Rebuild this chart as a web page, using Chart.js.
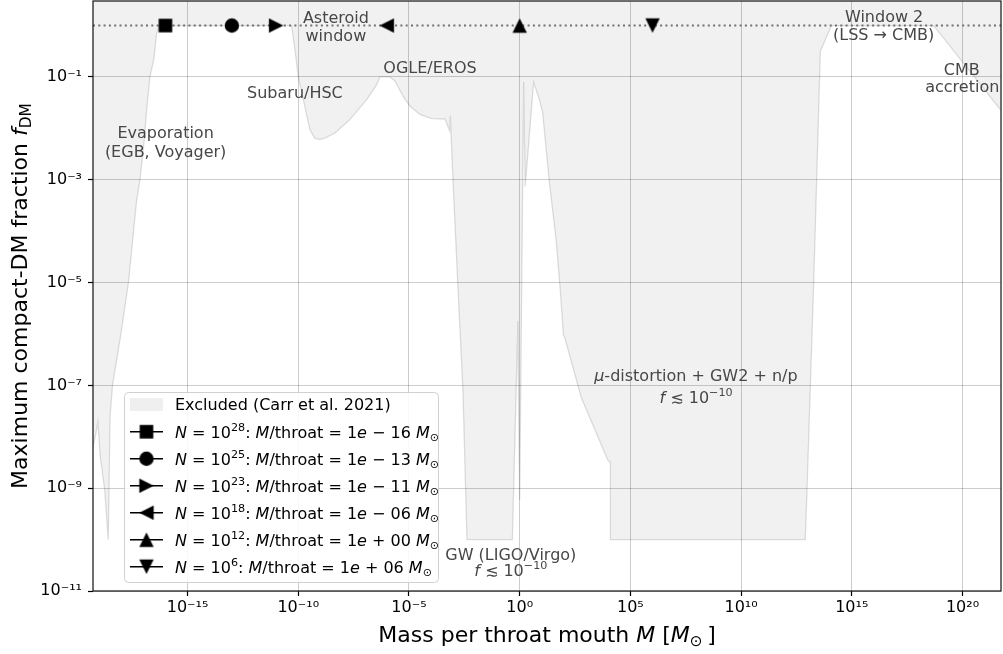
<!DOCTYPE html>
<html><head><meta charset="utf-8">
<script src="https://cdn.jsdelivr.net/npm/chart.js@4.4.1/dist/chart.umd.min.js"></script>
<style>html,body{margin:0;padding:0;background:#fff;overflow:hidden}canvas{display:block}</style>
</head><body>
<canvas id="c" width="1003" height="654"></canvas>
<script>
// ---------- data ----------
const xMinExp = -19.27, xMaxExp = 21.74;
const yMin = 1e-11, yMax = 3;
const xTickExps = [-15, -10, -5, 0, 5, 10, 15, 20];
const yTickExps = [-11, -9, -7, -5, -3, -1];

// excluded-region boundary (log10 M, log10 f_max)
const boundLogM = [-19.27,-19.15,-19.05,-18.94,-18.74,-18.58,-18.50,-18.39,-18.01,-17.67,-17.30,-17.15,-16.95,-16.85,-16.70,-16.52,-16.40,-16.28,
  -10.30,-10.15,-10.00,-9.77,-9.47,-9.25,-9.02,-8.80,-8.34,-7.67,-6.91,-6.46,-6.31,-5.86,-5.63,-5.26,-4.95,-4.50,-4.05,-3.90,-3.37,-3.16,-3.13,
  -3.01,-2.79,-2.56,-2.38,-0.33,-0.08,0.00,0.18,0.25,0.63,0.90,1.04,1.34,1.65,1.83,1.98,2.03,2.78,4.00,4.10,4.10,12.90,12.98,13.28,13.58,14.08,18.70,21.74];
const boundLogF = [-8.20,-7.95,-7.71,-8.39,-9.03,-10.00,-7.60,-7.00,-6.00,-5.00,-3.40,-3.00,-2.20,-1.65,-1.00,-0.65,-0.16,0.00,
  0.00,-0.47,-0.99,-1.44,-2.03,-2.19,-2.22,-2.19,-2.09,-1.83,-1.44,-1.15,-1.00,-1.00,-1.08,-1.38,-1.57,-1.73,-1.80,-1.81,-1.82,-2.05,-1.75,
  -3.02,-5.06,-7.11,-10.00,-10.00,-5.75,-9.23,-1.10,-3.13,-1.10,-1.45,-1.70,-3.04,-4.18,-5.12,-6.03,-6.06,-7.23,-8.47,-8.49,-10.00,-10.00,-9.00,-5.00,-0.50,0.00,0.00,-1.65];

const windowLevel = 1;
const throatN = [28, 25, 23, 18, 12, 6];
const throatMass = [1e-16, 1e-13, 1e-11, 1e-6, 1e0, 1e6];
const throatMarker = ['square', 'circle', 'triRight', 'triLeft', 'triUp', 'triDown'];

// annotation lines: text, centre log10 M, baseline log10 f
const annoText = ['Evaporation', '(EGB, Voyager)', 'Subaru/HSC', 'Asteroid', 'window', 'OGLE/EROS', 'Window 2', '(LSS \u2192 CMB)',
  'CMB', 'accretion', 'MU', 'FLIM', 'GW (LIGO/Virgo)', 'FLIM'];
const annoLogM = [-15.99, -15.99, -10.15, -8.30, -8.30, -4.05, 16.46, 16.44, 19.97, 19.99, 7.96, 7.97, -0.40, -0.40];
const annoLogF = [-2.182, -2.552, -1.415, 0.055, -0.295, -0.929, 0.074, -0.281, -0.962, -1.298, -6.918, -7.335, -10.396, -10.707];

// ---------- helpers ----------
const FONT = '"DejaVu Sans", sans-serif';
const SUPMAP = {'-':'\u207B','0':'\u2070','1':'\u00B9','2':'\u00B2','3':'\u00B3','4':'\u2074','5':'\u2075','6':'\u2076','7':'\u2077','8':'\u2078','9':'\u2079'};
const supStr = n => String(n).split('').map(c => SUPMAP[c]).join('');
const tickLabel = v => '10' + supStr(Math.round(Math.log10(v)));

function segFont(s, size) {
  const sz = (s.sup || s.sub) ? size * 0.7 : size;
  return (s.it ? 'italic ' : '') + sz + 'px ' + FONT;
}
function richWidth(ctx, segs, size) {
  let w = 0;
  for (const s of segs) { ctx.font = segFont(s, size); w += ctx.measureText(s.t).width; }
  return w;
}
function drawRich(ctx, segs, x, y, size, align, color) {
  const w = richWidth(ctx, segs, size);
  let cx = align === 'center' ? x - w / 2 : (align === 'right' ? x - w : x);
  ctx.fillStyle = color; ctx.textBaseline = 'alphabetic'; ctx.textAlign = 'left';
  for (const s of segs) {
    ctx.font = segFont(s, size);
    let dy = 0;
    if (s.sup) dy = -size * 0.42;
    if (s.sub) dy = size * 0.22;
    ctx.fillText(s.t, cx, y + dy);
    cx += ctx.measureText(s.t).width;
  }
}
const fLim = [{t:'f', it:1}, {t:' \u2272 10'}, {t:'\u221210', sup:1}];
function annoSegs(t) {
  if (t === 'MU') return [{t:'\u03BC', it:1}, {t:'-distortion + GW2 + n/p'}];
  if (t === 'FLIM') return fLim;
  return [{t}];
}

function makeMarker(kind) {
  const c = document.createElement('canvas');
  c.width = 18; c.height = 18;
  const g = c.getContext('2d');
  const m = 9, h = 7.2;
  g.fillStyle = '#000';
  g.beginPath();
  if (kind === 'square') { g.rect(m - 6.8, m - 6.8, 13.6, 13.6); }
  else if (kind === 'circle') { g.arc(m, m, 7.2, 0, Math.PI * 2); }
  else if (kind === 'triUp') { g.moveTo(m, m - h); g.lineTo(m + h, m + h); g.lineTo(m - h, m + h); }
  else if (kind === 'triDown') { g.moveTo(m, m + h); g.lineTo(m + h, m - h); g.lineTo(m - h, m - h); }
  else if (kind === 'triRight') { g.moveTo(m + h, m); g.lineTo(m - h, m - h); g.lineTo(m - h, m + h); }
  else if (kind === 'triLeft') { g.moveTo(m - h, m); g.lineTo(m + h, m - h); g.lineTo(m + h, m + h); }
  g.closePath(); g.fill();
  return c;
}
const markerCanvas = throatMarker.map(makeMarker);

function massParts(m) {
  const e = Math.round(Math.log10(m));
  return {sign: e < 0 ? ' \u2212 ' : ' + ', exp: String(Math.abs(e)).padStart(2, '0')};
}
function legendSegs(i) {
  const ml = massParts(throatMass[i]);
  return [{t:'N', it:1}, {t:' = 10'}, {t:String(throatN[i]), sup:1}, {t:': '}, {t:'M', it:1}, {t:'/throat = 1'},
    {t:'e', it:1}, {t:ml.sign + ml.exp + ' '}, {t:'M', it:1}, {t:'\u2299', sub:1}];
}

// ---------- decoration plugin ----------
const decor = {
  id: 'decor',
  afterDraw(chart) {
    const ctx = chart.ctx, xs = chart.scales.x, ys = chart.scales.y, a = chart.chartArea;
    ctx.save();
    // annotations
    for (let i = 0; i < annoText.length; i++) {
      const px = xs.getPixelForValue(Math.pow(10, annoLogM[i]));
      const py = ys.getPixelForValue(Math.pow(10, annoLogF[i]));
      drawRich(ctx, annoSegs(annoText[i]), px, py, 16, 'center', '#474747');
    }
    // legend
    const L = {x: 124, y: 392, w: 314, h: 190};
    ctx.beginPath();
    ctx.roundRect(L.x + 0.5, L.y + 0.5, L.w, L.h, 4);
    ctx.fillStyle = 'rgba(255,255,255,0.85)'; ctx.fill();
    ctx.strokeStyle = '#d0d0d0'; ctx.lineWidth = 1; ctx.stroke();
    ctx.fillStyle = '#efefef';
    ctx.fillRect(130, 398, 33, 13);
    drawRich(ctx, [{t:'Excluded (Carr et al. 2021)'}], 175, 410, 16, 'left', '#000');
    for (let i = 0; i < throatN.length; i++) {
      const cy = 431.7 + i * 27;
      ctx.strokeStyle = '#000'; ctx.lineWidth = 1.6;
      ctx.beginPath(); ctx.moveTo(130, cy); ctx.lineTo(163, cy); ctx.stroke();
      const mc = markerCanvas[i];
      ctx.drawImage(mc, 146.5 - mc.width / 2, cy - mc.height / 2);
      drawRich(ctx, legendSegs(i), 175, cy + 6, 16, 'left', '#000');
    }
    // spines
    ctx.strokeStyle = '#1a1a1a'; ctx.lineWidth = 1.25;
    ctx.strokeRect(a.left, a.top, a.right - a.left, a.bottom - a.top);
    // axis titles
    drawRich(ctx, [{t:'Mass per throat mouth '}, {t:'M', it:1}, {t:' ['}, {t:'M', it:1}, {t:'\u2299', sub:1}, {t:'\u2009]'}],
      (a.left + a.right) / 2, 641.5, 22, 'center', '#000');
    ctx.translate(26.5, (a.top + a.bottom) / 2);
    ctx.rotate(-Math.PI / 2);
    drawRich(ctx, [{t:'Maximum compact-DM fraction '}, {t:'f', it:1}, {t:'DM', sub:1}], 0, 0, 22, 'center', '#000');
    ctx.restore();
  }
};

// ---------- chart ----------
const boundaryData = boundLogM.map((m, i) => ({x: Math.pow(10, m), y: Math.pow(10, boundLogF[i])}));
const windowData = [{x: Math.pow(10, xMinExp), y: windowLevel}, {x: Math.pow(10, xMaxExp), y: windowLevel}];

const datasets = [
  {label: 'Excluded (Carr et al. 2021)', data: boundaryData, fill: 'end', backgroundColor: 'rgba(0,0,0,0.055)',
   borderColor: 'rgba(0,0,0,0.13)', borderWidth: 1.3, pointRadius: 0, tension: 0, order: 10},
  {label: 'window', data: windowData, fill: false, borderColor: '#707070', borderWidth: 2, borderDash: [2, 3.3],
   pointRadius: 0, order: 5}
];
throatN.forEach((n, i) => datasets.push({
  label: 'N=10^' + n, data: [{x: throatMass[i], y: windowLevel}], showLine: false,
  pointStyle: markerCanvas[i], pointRadius: 7, order: 0
}));

const tickFont = {family: 'DejaVu Sans', size: 16};
new Chart(document.getElementById('c'), {
  type: 'line',
  data: {datasets},
  options: {
    responsive: false, animation: false, events: [],
    layout: {autoPadding: false, padding: {top: 1, right: 2, left: 0, bottom: 0}},
    plugins: {legend: {display: false}, tooltip: {enabled: false}},
    scales: {
      x: {
        type: 'logarithmic', min: Math.pow(10, xMinExp), max: Math.pow(10, xMaxExp),
        afterBuildTicks: s => { s.ticks = xTickExps.map(e => ({value: Math.pow(10, e)})); },
        afterFit: s => { s.height = 63; s.paddingLeft = 0; s.paddingRight = 0; },
        ticks: {autoSkip: false, maxRotation: 0, color: '#000', font: tickFont, padding: 2, callback: v => tickLabel(v)},
        grid: {color: 'rgba(0,0,0,0.2)', lineWidth: 1, tickLength: 5, tickColor: '#000', tickWidth: 1.2},
        border: {display: false}
      },
      y: {
        type: 'logarithmic', min: yMin, max: yMax,
        afterBuildTicks: s => { s.ticks = yTickExps.map(e => ({value: Math.pow(10, e)})); },
        afterFit: s => { s.width = 93; s.paddingTop = 0; s.paddingBottom = 0; },
        ticks: {autoSkip: false, color: '#000', font: tickFont, padding: 6, callback: v => tickLabel(v)},
        grid: {color: 'rgba(0,0,0,0.2)', lineWidth: 1, tickLength: 5, tickColor: '#000', tickWidth: 1.2},
        border: {display: false}
      }
    }
  },
  plugins: [decor]
});
</script>
</body></html>
